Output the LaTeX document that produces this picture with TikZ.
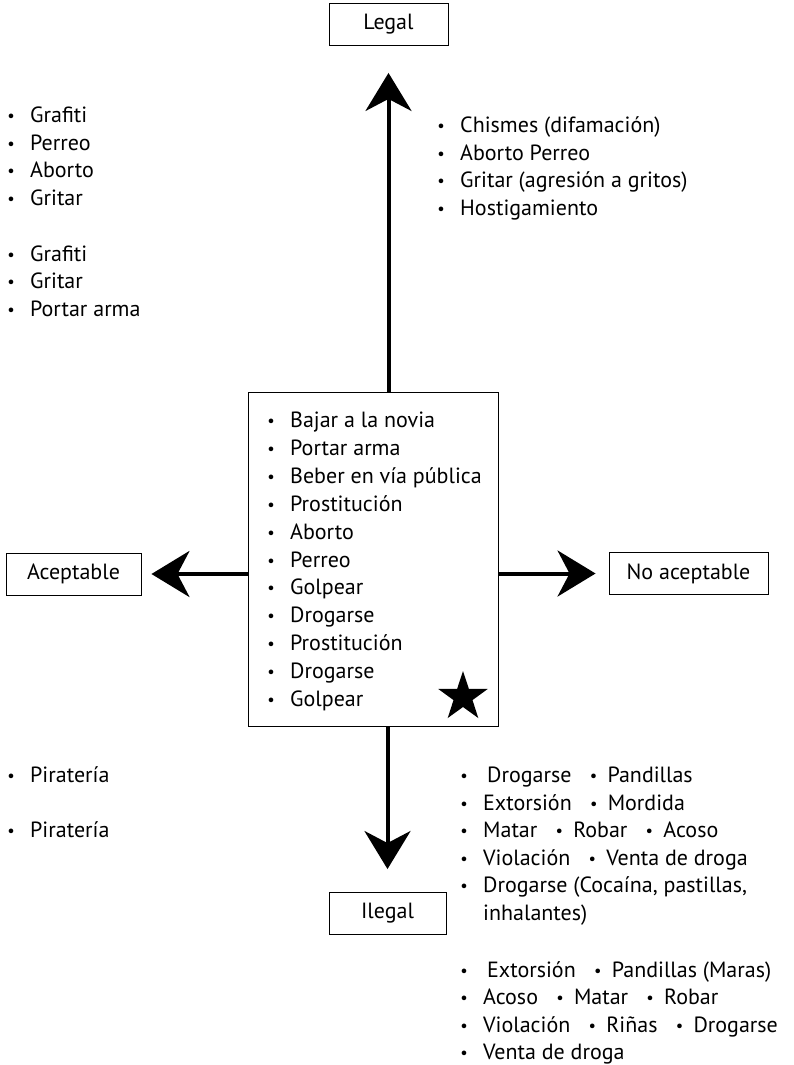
\documentclass[tikz,border=0pt]{standalone}
\usepackage{fontspec}
\setmainfont{PT Sans}
\usepackage{graphicx}
\usetikzlibrary{arrows.meta, shapes.geometric}

\newcommand{\vin}{\makebox[6pt][c]{\raisebox{1pt}{\scalebox{0.75}{\textbullet}}}\hspace{16pt}}
\newcommand{\vinm}{\hspace{19pt}\makebox[6pt][c]{\raisebox{1pt}{\scalebox{0.75}{\textbullet}}}\hspace{11pt}}

\tikzset{
  caja/.style={draw, line width=0.9pt, minimum height=42pt, inner sep=0pt, font=\fontsize{22}{26}\selectfont},
  item/.style={anchor=base west, inner sep=0pt, font=\fontsize{22}{26}\selectfont},
  flecha/.style={line width=4pt, -{Stealth[length=38pt, width=46pt, inset=12pt]}},
  estrella/.style={star, star points=5, star point ratio=2.6, fill, minimum size=52pt, inner sep=0pt}
}

\begin{document}
\begin{tikzpicture}[x=1pt, y=-1pt]
\useasboundingbox (0,0) rectangle (793,1065);
% cajas
\node[caja, minimum width=119pt] (legal) at (388.5,24.5) {Legal};
\node[caja, minimum width=135pt] (aceptable) at (73.5,574) {Aceptable};
\node[caja, minimum width=159pt] (noacep) at (688.5,573.5) {No aceptable};
\node[caja, minimum width=117pt] (ilegal) at (387.5,913.5) {Ilegal};
\node[caja, minimum width=250pt, minimum height=334pt] (centro) at (373,559) {};
\node[estrella] (star) at (463,697) {};
% flechas
\draw[flecha, shorten >=27pt] (centro.north -| legal) -- (legal.south);
\draw[flecha, shorten >=23pt] (centro.south -| ilegal) -- (ilegal.north);
\draw[flecha, shorten >=10pt] (centro.west |- aceptable) -- (aceptable.east);
\draw[flecha, shorten >=13pt] (centro.east |- noacep) -- (noacep.west);
% legal y aceptable
\node[item] (la1) at (8,122.5) {\vin Grafiti};
\node[item] (la2) at (8,150.2) {\vin Perreo};
\node[item] (la3) at (8,177.9) {\vin Aborto};
\node[item] (la4) at (8,205.6) {\vin Gritar};
\node[item] (la5) at (8,261) {\vin Grafiti};
\node[item] (la6) at (8,288.7) {\vin Gritar};
\node[item] (la7) at (8,316.4) {\vin Portar arma};
% legal y no aceptable
\node[item] (ln1) at (438,132.5) {\vin Chismes (difamación)};
\node[item] (ln2) at (438,160.2) {\vin Aborto Perreo};
\node[item] (ln3) at (438,187.9) {\vin Gritar (agresión a gritos)};
\node[item] (ln4) at (438,215.6) {\vin Hostigamiento};
% centro
\node[item] (c1) at (268,427.5) {\vin Bajar a la novia};
\node[item] (c2) at (268,455.4) {\vin Portar arma};
\node[item] (c3) at (268,483.3) {\vin Beber en vía pública};
\node[item] (c4) at (268,511.2) {\vin Prostitución};
\node[item] (c5) at (268,539.1) {\vin Aborto};
\node[item] (c6) at (268,567) {\vin Perreo};
\node[item] (c7) at (268,594.9) {\vin Golpear};
\node[item] (c8) at (268,622.8) {\vin Drogarse};
\node[item] (c9) at (268,650.7) {\vin Prostitución};
\node[item] (c10) at (268,678.6) {\vin Drogarse};
\node[item] (c11) at (268,706.5) {\vin Golpear};
% ilegal y aceptable
\node[item] (ia1) at (8,782.5) {\vin Piratería};
\node[item] (ia2) at (8,837.5) {\vin Piratería};
% ilegal y no aceptable
\node[item] (in1) at (461,782.5) {\vin\hspace{4pt}Drogarse\vinm Pandillas};
\node[item] (in2) at (461,810) {\vin Extorsión\vinm Mordida};
\node[item] (in3) at (461,837.5) {\vin Matar\vinm Robar\vinm Acoso};
\node[item] (in4) at (461,865) {\vin Violación\vinm Venta de droga};
\node[item] (in5) at (461,892.5) {\vin Drogarse (Cocaína, pastillas,};
\node[item] (in6) at (483,920) {inhalantes)};
\node[item] (in7) at (461,977) {\vin\hspace{4pt}Extorsión\vinm Pandillas (Maras)};
\node[item] (in8) at (461,1004.5) {\vin Acoso\vinm Matar\vinm Robar};
\node[item] (in9) at (461,1032) {\vin Violación\vinm Riñas\vinm Drogarse};
\node[item] (in10) at (461,1059.5) {\vin Venta de droga};
\end{tikzpicture}
\end{document}
